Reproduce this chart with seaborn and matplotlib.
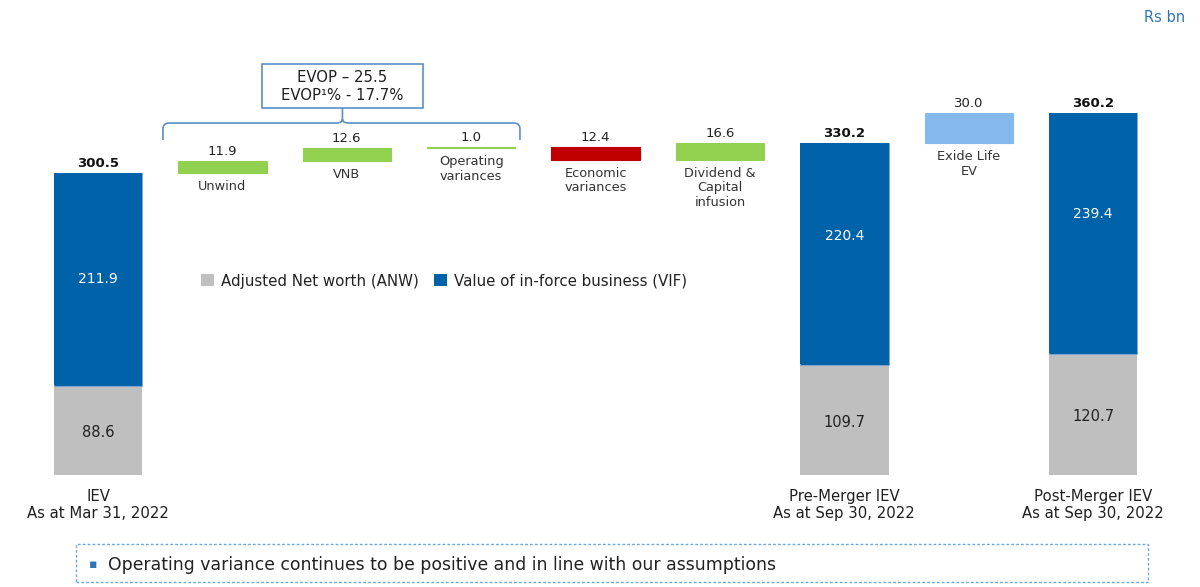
import numpy as np
import pandas as pd
import matplotlib
matplotlib.use("Agg")
import matplotlib.pyplot as plt
from matplotlib.path import Path
from matplotlib.patches import PathPatch, Rectangle, Patch
import seaborn as sns

# ---------------- data ----------------
keys = ["IEV", "Unwind", "VNB", "OpVar", "EconVar", "Dividend", "PreMerger", "Exide", "PostMerger"]

total_keys = ["IEV", "PreMerger", "PostMerger"]
total_labels = ["IEV\nAs at Mar 31, 2022", "Pre-Merger IEV\nAs at Sep 30, 2022", "Post-Merger IEV\nAs at Sep 30, 2022"]
anw_values = [88.6, 109.7, 120.7]
vif_values = [211.9, 220.4, 239.4]
total_values = [300.5, 330.2, 360.2]

step_keys = ["Unwind", "VNB", "OpVar", "EconVar", "Dividend", "Exide"]
step_labels = ["Unwind", "VNB", "Operating\nvariances", "Economic\nvariances", "Dividend &\nCapital\ninfusion", "Exide Life\nEV"]
step_values = [11.9, 12.6, 1.0, -12.4, 16.6, 30.0]
step_kind = ["pos", "pos", "pos", "neg", "pos", "merger"]

legend_labels = ["Adjusted Net worth (ANW)", "Value of in-force business (VIF)"]
evop_lines = ["EVOP \u2013 25.5", "EVOP\u00b9% - 17.7%"]
footnote = "Operating variance continues to be positive and in line with our assumptions"
unit_label = "Rs bn"

# ---------------- style ----------------
C_BLUE = "#0063AA"
C_GREY = "#BFBFBF"
C_GREEN = "#92D050"
C_RED = "#C00000"
C_LIGHT = "#85B8EC"
C_LINE = "#5B8FC9"
C_TEXT = "#1F1F1F"
kind_color = {"pos": C_GREEN, "neg": C_RED, "merger": C_LIGHT}

sns.set_style("white")
plt.rcParams["font.family"] = ["DejaVu Sans"]

fig = plt.figure(figsize=(12, 5.87), dpi=100)
ax = fig.add_axes([0, 0, 1, 1])

BW = 0.71
pos = {k: i for i, k in enumerate(keys)}

def bar(key, height, bottom, color, edge=None, lw=0):
    sns.barplot(x=[key], y=[height], order=keys, bottom=bottom, color=color,
                width=BW, saturation=1, ax=ax,
                edgecolor=edge if edge else color, linewidth=lw)

# totals (stacked)
for k, a, v, t in zip(total_keys, anw_values, vif_values, total_values):
    bar(k, a, 0, C_GREY)
    bar(k, t - a, a, C_BLUE, edge="#7FA9D6", lw=0.6)
    bar(k, t - a - 0.8, a + 0.8, C_BLUE)

# floating steps
running = total_values[0]
step_geom = []
for k, v, kind in zip(step_keys, step_values, step_kind):
    lo = min(running, running + v)
    hi = max(running, running + v)
    bar(k, hi - lo, lo, kind_color[kind], edge=kind_color[kind], lw=0.8)
    step_geom.append((lo, hi))
    running += v

ax.set_xlim(-0.788, 8.859)
ax.set_ylim(-111.4, 472.6)
ax.axis("off")

# total labels
for i, (k, lab, a, v, t) in enumerate(zip(total_keys, total_labels, anw_values, vif_values, total_values)):
    x = pos[k]
    ax.text(x, t + 3, f"{t:.1f}", ha="center", va="bottom", fontsize=9.5,
            fontweight="bold", color="#111111")
    frac = 0.5 if i == 0 else 0.58
    ax.text(x, a + (t - a) * frac, f"{v:.1f}", ha="center", va="center",
            fontsize=10, color="white")
    ax.text(x, a * 0.48, f"{a:.1f}", ha="center", va="center", fontsize=10.5,
            color="#222222")
    ax.text(x, -14, lab, ha="center", va="top", fontsize=10.7, color=C_TEXT,
            linespacing=1.15)

# step labels
for k, lab, v, (lo, hi) in zip(step_keys, step_labels, step_values, step_geom):
    x = pos[k]
    ax.text(x, hi + 3, f"{abs(v):.1f}", ha="center", va="bottom", fontsize=9.5,
            color="#222222")
    ax.text(x, lo - 7, lab, ha="center", va="top", fontsize=9.3, color="#333333",
            linespacing=1.15)

# legend
handles = [Patch(facecolor=C_GREY, edgecolor="none"), Patch(facecolor=C_BLUE, edgecolor="none")]
leg = ax.legend(handles, legend_labels, loc="center", bbox_to_anchor=(0.370, 0.521),
                ncol=2, frameon=False, fontsize=10.8, handlelength=0.85, handleheight=0.85,
                handletextpad=0.5, columnspacing=1.0)
for t in leg.get_texts():
    t.set_color("#222222")

# EVOP bracket
xl, xr, xc = 0.522, 3.392, 1.965
yh, ye, yt = 350.2, 333.3, 365.5
dx, r = 0.05, 6
verts = [(xl, ye), (xl, yh - r), (xl, yh), (xl + dx, yh), (xc - dx, yh), (xc, yh), (xc, yh + 4),
         (xc, yt),
         (xc, yh + 4), (xc, yh), (xc + dx, yh), (xr - dx, yh), (xr, yh), (xr, yh - r), (xr, ye)]
codes = [Path.MOVETO, Path.LINETO, Path.CURVE3, Path.CURVE3, Path.LINETO, Path.CURVE3, Path.CURVE3,
         Path.LINETO,
         Path.MOVETO, Path.CURVE3, Path.CURVE3, Path.LINETO, Path.CURVE3, Path.CURVE3, Path.LINETO]
ax.add_patch(PathPatch(Path(verts, codes), facecolor="none", edgecolor=C_LINE, lw=1.2))
ax.add_patch(Rectangle((1.318, yt), 2.613 - 1.318, 408.5 - yt, facecolor="white",
                       edgecolor=C_LINE, lw=1.2))
ax.text(xc, 395.5, evop_lines[0], ha="center", va="center", fontsize=10.7, color=C_TEXT)
ax.text(xc, 377.5, evop_lines[1], ha="center", va="center", fontsize=10.7, color=C_TEXT)

# unit label
fig.text(0.9875, 0.971, unit_label, ha="right", va="center", fontsize=10.5, color="#2E75B6")

# footnote box
fig.patches.append(Rectangle((0.0633, 0.0085), 0.8934, 0.0647, transform=fig.transFigure,
                             facecolor="none", edgecolor="#6FA8DC", lw=1.0, linestyle=(0, (2, 1.5))))
fig.text(0.0775, 0.0375, "\u25aa", ha="center", va="center", fontsize=9, color="#2E75B6")
fig.text(0.09, 0.0375, footnote, ha="left", va="center", fontsize=12.4, color="#222222")

fig.savefig("out.png", dpi=100)
